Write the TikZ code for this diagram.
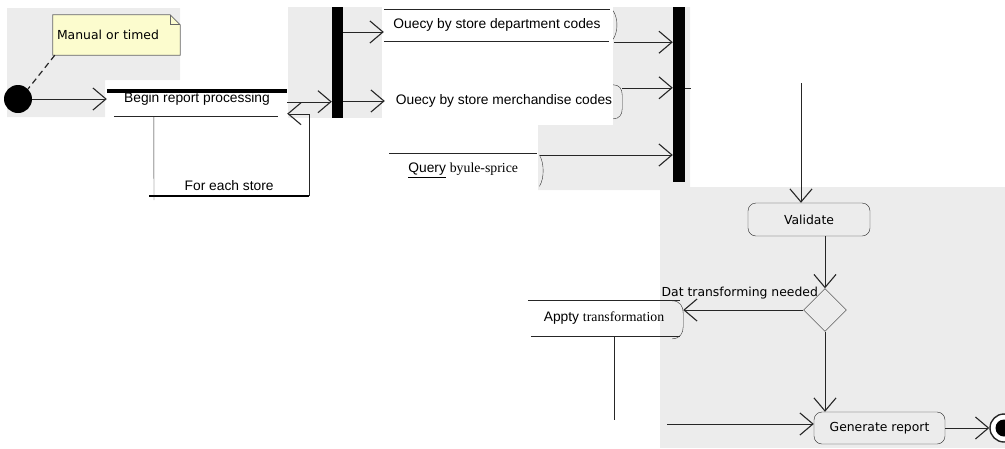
\documentclass[tikz,border=0pt]{standalone}
\usepackage{fontspec}
\setmainfont{Liberation Sans}
\newfontfamily\serifface{Liberation Serif}
\newfontfamily\tahoma{DejaVu Sans}
\usetikzlibrary{positioning,arrows.meta,shapes.geometric}
\pgfdeclarelayer{background layer}
\pgfsetlayers{background layer,main}
\definecolor{shotgray}{RGB}{236,236,236}
\definecolor{notefill}{RGB}{252,252,206}
\tikzset{
	flow/.style={draw, -{Straight Barb[length=13pt,width=22pt,line width=1.1pt]}},
	bar/.style={fill=black, inner sep=0pt},
	txt/.style={inner sep=0pt, font=\fontsize{13.8}{15}\selectfont},
	lbl/.style={inner sep=0pt, font=\tahoma\fontsize{12.4}{14}\selectfont},
	act base/.style={draw, rectangle, rounded corners=8pt, inner sep=0pt, font=\tahoma\fontsize{12.4}{14}\selectfont},
	cap line/.style={draw=black!80},
}

\begin{document}
\begin{tikzpicture}[x=1pt,y=-1pt,line width=1.1pt,draw=black!85]
	\useasboundingbox (0,0) rectangle (1005,448);
	% screenshot patches
	\begin{pgfonlayer}{background layer}
	\fill [shotgray] (7,8) -- (180,8) -- (180,80) -- (105,80) -- (105,117) -- (7,117) -- cycle;
	\fill [shotgray] (288,7) rectangle (382,118);
	\fill [shotgray] (613,7) -- (690,7) -- (690,190) -- (538,190) -- (538,125) -- (613,125) -- cycle;
	\fill [shotgray] (660,187) rectangle (1005,448);
	\end{pgfonlayer}

	% start and note
	\node [lbl,minimum width=127pt,minimum height=40pt,text width=119pt,align=left] (note) at (116.5,35) {Manual or timed};
	\begin{pgfonlayer}{background layer}
	\filldraw [fill=notefill,draw=black!60,line width=0.8pt] (note.north west) -- ([xshift=-10pt]note.north east) -- ([yshift=-10pt]note.north east) -- (note.south east) -- (note.south west) -- cycle;
	\draw [black!60,line width=0.8pt] ([xshift=-10pt]note.north east) |- ([yshift=-10pt]note.north east);
	\end{pgfonlayer}
	\node [circle,fill=black,minimum size=28pt,inner sep=0pt] (start) at (18,99) {};
	\draw [dash pattern=on 6pt off 4pt,line width=1.2pt] ([xshift=2pt]note.south west) -- (start.north east);

	% begin and loop
	\node [minimum width=180pt,minimum height=25pt,inner sep=0pt,anchor=north] (begin) at (197,91) {};
	\node [txt] (begintext) at ([yshift=-8pt]begin.north) {Begin report processing};
	\draw [line width=4pt,draw=black] (begin.north west) -- (begin.north east);
	\draw ([xshift=7pt]begin.south west) -- ([xshift=-9pt]begin.south east);
	\draw [flow] (start) -- (begin.west |- start);
	\node [txt,minimum width=160pt,minimum height=20pt,anchor=south west] (each) at (149,196) {For each store};
	\draw [line width=2pt,draw=black] (each.south west) -- (each.south east);
	\draw ([xshift=47pt]begin.south west) -- ([xshift=5pt,yshift=-4pt]each.south west);
	\draw [flow] (each.south east) |- ([yshift=-10pt]begin.east);

	% fork
	\node [bar,minimum width=11pt,minimum height=111pt] (fork) at (337.5,62.5) {};
	\coordinate (beginout) at ([yshift=2pt]begin.east);
	\draw [flow] (beginout) -- (beginout -| fork.west);

	% queries
	\node [txt,minimum width=226pt,minimum height=32pt] (dept) at (497,25) {Ouecy by store department codes};
	\draw (dept.north west) -- (dept.north east);
	\draw (dept.south west) -- ([xshift=-1pt]dept.south east);
	\draw [cap line] ([xshift=3pt,yshift=-2pt]dept.north east) .. controls +(5,8) and +(5,-8) .. ([xshift=3pt,yshift=2pt]dept.south east);
	\node [txt,minimum width=238pt,minimum height=34pt] (merch) at (504,101) {Ouecy by store merchandise codes};
	\draw [cap line] (merch.north east) ++(-10,1) .. controls +(6,0) and +(0,-6) .. ++(9,10) -- ++(0,14) .. controls +(0,6) and +(6,0) .. ++(-9,10);
	\node [txt,minimum width=148pt,minimum height=34pt,anchor=north west] (query) at (389,153) {\underline{Query} {\serifface byule-sprice}};
	\draw (query.north west) -- (query.north east);
	\draw [cap line] ([xshift=2pt,yshift=-2pt]query.north east) .. controls +(5,8) and +(5,-8) .. ([xshift=2pt,yshift=1pt]query.south east);

	\coordinate (deptin) at ([yshift=-7pt]dept.west);
	\draw [flow] (deptin -| fork.east) -- (deptin);
	\draw [flow] (fork.east |- merch.west) -- (merch.west);

	% join
	\node [bar,minimum width=12pt,minimum height=175pt] (join) at (679,94.5) {};
	\coordinate (deptout) at ([xshift=4pt,yshift=-1pt]dept.south east);
	\draw [flow] (deptout) -- (deptout -| join.west);
	\coordinate (merchout) at ([xshift=-1pt,yshift=-4pt]merch.north east);
	\draw [flow] (merchout) -- (merchout -| join.west);
	\draw (merchout -| join.east) -- ++(6,0);
	\coordinate (queryout) at ([xshift=3pt,yshift=-2pt]query.north east);
	\draw [flow] (queryout) -- (queryout -| join.west);

	% validate and decision
	\node [act base,minimum width=122pt,minimum height=33pt] (validate) at (809,219.5) {Validate};
	\coordinate (feed) at (801,83);
	\draw [flow] (feed) -- (feed |- validate.north);
	\node [diamond,draw,aspect=1,minimum size=43pt,inner sep=0pt] (check) at (825,310) {};
	\draw [flow] (check.north |- validate.south) -- (check.north);
	\node [lbl,anchor=south east] (needed) at ([xshift=4pt]check.north west) {Dat transforming needed};

	\node [txt,minimum width=152pt,minimum height=36pt] (apply) at (604,318) {Appty {\serifface transformation}};
	\draw (apply.north west) -- (apply.north east);
	\draw ([xshift=3pt]apply.south west) -- (apply.south east);
	\draw [cap line] (apply.north east) ++(-8,1) .. controls +(8,0) and +(0,-6) .. ++(11,12) -- ++(0,14) .. controls +(0,6) and +(8,0) .. ++(-11,12);
	\coordinate (applyedge) at ([xshift=3pt]apply.east);
	\draw [flow] (check.west) -- (check.west -| applyedge);
	\coordinate (applyfoot) at (614,420);
	\draw (apply.south -| applyfoot) -- (applyfoot);

	% report and end
	\node [act base,minimum width=131pt,minimum height=32pt] (report) at (879.5,428) {Generate report};
	\draw [flow] (check.south) -- (check.south |- report.north);
	\coordinate (gentail) at (667,424);
	\draw [flow] (gentail) -- (gentail -| report.west);
	\node [circle,draw,fill=white,minimum size=28pt,inner sep=0pt,line width=1.4pt] (stop) at (1004,428) {};
	\node [circle,fill=black,minimum size=17pt,inner sep=0pt] (stopdot) at (stop) {};
	\draw [flow] (report.east) -- (stop.west);
\end{tikzpicture}
\end{document}
